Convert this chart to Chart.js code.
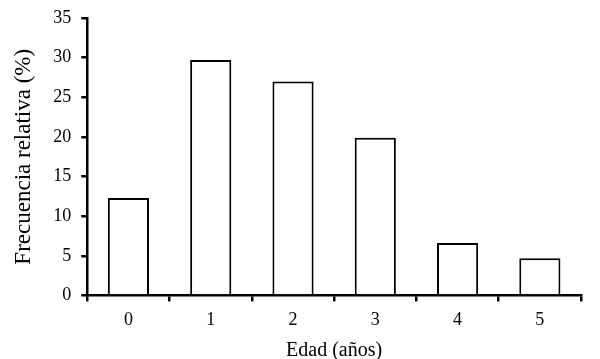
<!DOCTYPE html>
<html><head><meta charset="utf-8">
<script src="https://cdn.jsdelivr.net/npm/chart.js@4/dist/chart.umd.min.js"></script>
<style>html,body{margin:0;padding:0;background:#fff}#w{width:600px;height:359px}</style>
</head><body><div id="w"><canvas id="c"></canvas></div>
<script>
const categories = ["0","1","2","3","4","5"];
const frecuencia = [12.3, 29.7, 27.0, 19.9, 6.6, 4.7];
const yTicks = [0,5,10,15,20,25,30,35];
const xTitle = "Edad (años)";
const yTitle = "Frecuencia relativa (%)";
const font = "'Liberation Serif','Times New Roman',serif";
new Chart(document.getElementById('c'), {
  type: 'bar',
  data: { labels: categories, datasets: [{ data: frecuencia, backgroundColor: '#fff', borderColor: '#000', borderWidth: 2, barPercentage: 0.5, categoryPercentage: 1.0 }] },
  options: {
    responsive: true, maintainAspectRatio: false, animation: false,
    layout: { padding: { top: 0, right: 19, left: 11, bottom: -2 } },
    plugins: { legend: { display: false }, tooltip: { enabled: false } },
    scales: {
      x: {
        grid: { display: true, drawOnChartArea: false, offset: true, color: '#000', lineWidth: 2.5, tickLength: 6 },
        border: { color: '#000', width: 2.5 },
        ticks: { color: '#000', font: { family: font, size: 18 }, padding: 8.5 },
        title: { display: true, text: xTitle, color: '#000', font: { family: font, size: 20, lineHeight: 1 }, padding: { top: 1, bottom: 0 } }
      },
      y: {
        min: 0, max: 35,
        afterBuildTicks: (s) => { s.ticks = yTicks.map(v => ({ value: v })); },
        grid: { display: true, drawOnChartArea: false, color: '#000', lineWidth: 2.5, tickLength: 6 },
        border: { color: '#000', width: 2.5 },
        ticks: { color: '#000', font: { family: font, size: 18, lineHeight: 0.9 }, padding: 10 },
        title: { display: true, text: yTitle, color: '#000', font: { family: font, size: 23, lineHeight: 1.1 }, padding: { top: 0, bottom: 7 } }
      }
    }
  }
});
</script></body></html>
